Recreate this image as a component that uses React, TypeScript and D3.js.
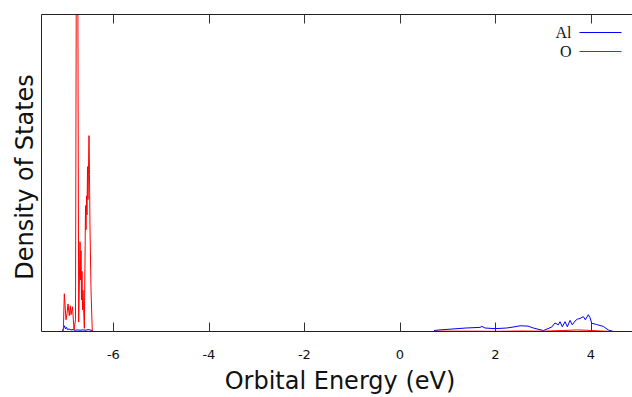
import React from "react";
import * as d3 from "d3";

// Energy (eV) and DOS (arbitrary units, 0..100 = frame height)
const alEnergy = [
  -7.07, -7.045, -7.024, -7.003, -6.982, -6.961, -6.93, -6.888, -6.846, -6.804, -6.741, -6.699,
  -6.637, -6.574, -6.532, -6.49, -6.448, -6.427,
  0.714, 0.84, 1.112, 1.385, 1.677, 1.719, 1.782, 1.992, 2.237, 2.411, 2.515, 2.683, 2.794,
  3.003, 3.179, 3.248, 3.317, 3.353, 3.401, 3.458, 3.506, 3.563, 3.61, 3.667, 3.715, 3.772,
  3.841, 3.883, 3.946, 3.981, 4.017, 4.121, 4.26, 4.364, 4.469, 4.505,
];
const alDos = [
  0, 1.0, 1.8, 0.8, 1.3, 0.6, 0.8, 0.5, 0.6, 0.4, 0.5, 0.4,
  0.5, 0.4, 0.6, 0.5, 0.3, 0,
  0.3, 0.5, 0.8, 1.1, 1.3, 1.6, 1.1, 0.9, 1.1, 1.5, 1.8, 1.7, 1.1,
  0.3, 1.4, 2.7, 2.1, 3.1, 1.5, 3.1, 1.5, 3.5, 2.1, 3.3, 3.9, 4.1,
  4.7, 3.7, 5.3, 4.4, 2.6, 2.2, 1.6, 0.5, 0, 0,
];

const oEnergy = [
  -7.049, -7.028, -6.993, -6.972, -6.951, -6.924, -6.903, -6.888, -6.857, -6.825, -6.794,
  -6.773, -6.752, -6.727, -6.699, -6.689, -6.678, -6.668, -6.658, -6.647, -6.637, -6.609,
  -6.584, -6.574, -6.563, -6.553, -6.542, -6.532, -6.522, -6.511, -6.501, -6.49, -6.469, -6.442,
  0.7, 0.75, 1.5, 2.0, 2.5, 3.0, 3.4, 3.7, 3.9, 4.0, 4.3, 4.5,
];
const oDos = [
  0.2, 11.9, 3.7, 5.6, 8.7, 5.0, 8.1, 5.3, 7.8, 0.5, 3.7,
  140, 150, 3.0, 28.3, 16.3, 25.5, 10, 19, 6.8, 13, 1.0,
  39.7, 32.1, 42.8, 36.8, 52, 41.6, 51, 61.8, 49.5, 32.7, 13, 0,
  0, 0.1, 0.1, 0.05, 0.15, 0.1, 0.3, 0.5, 0.4, 0.3, 0.1, 0,
];

const xTicks = [-6, -4, -2, 0, 2, 4];
const legendLabels = ["Al", "O"];
const seriesColors = ["#0000ff", "#ff0000"];

const W = 632;
const H = 397;
const left = 41.5;
const right = 632.5;
const top = 14.5;
const bottom = 331.5;

// split a series where there is a gap in energy (no states computed there)
function segments(es: number[], vs: number[]): [number, number][][] {
  const out: [number, number][][] = [];
  let cur: [number, number][] = [];
  es.forEach((e, i) => {
    if (i > 0 && e - es[i - 1] > 1) {
      out.push(cur);
      cur = [];
    }
    cur.push([e, vs[i]]);
  });
  out.push(cur);
  return out;
}

export default function App() {
  const x = d3.scaleLinear().domain([-7.506, 4.871]).range([left, right]);
  const y = d3.scaleLinear().domain([0, 100]).range([bottom, top]);

  const line = d3
    .line<[number, number]>()
    .x((d) => x(d[0]))
    .y((d) => y(d[1]));

  const alSegs = segments(alEnergy, alDos);
  const oSegs = segments(oEnergy, oDos);

  return (
    <div style={{ position: "absolute", left: 0, top: 0 }}>
      <svg width={W} height={H} style={{ display: "block", background: "#fff" }}>
        <defs>
          <clipPath id="plotClip">
            <rect x={left} y={top} width={right - left} height={bottom - top} />
          </clipPath>
        </defs>
        <g clipPath="url(#plotClip)">
          {alSegs.map((s, i) => (
            <path key={"a" + i} d={line(s) || ""} fill="none" stroke={seriesColors[0]} strokeWidth={1} />
          ))}
          {oSegs.map((s, i) => (
            <path key={"o" + i} d={line(s) || ""} fill="none" stroke={seriesColors[1]} strokeWidth={1} />
          ))}
        </g>
        {/* frame */}
        <line x1={left} x2={W} y1={top} y2={top} stroke="#222" strokeWidth={1} />
        <line x1={left} x2={W} y1={bottom} y2={bottom} stroke="#222" strokeWidth={1} />
        <line x1={left} x2={left} y1={top} y2={bottom} stroke="#222" strokeWidth={1} />
        {xTicks.map((t) => (
          <g key={t}>
            <line x1={Math.round(x(t)) + 0.5} x2={Math.round(x(t)) + 0.5} y1={bottom} y2={bottom - 9} stroke="#333" strokeWidth={1} />
            <line x1={Math.round(x(t)) + 0.5} x2={Math.round(x(t)) + 0.5} y1={top} y2={top + 9} stroke="#333" strokeWidth={1} />
            <text
              x={x(t)}
              y={359}
              textAnchor="middle"
              fontFamily="DejaVu Sans"
              fontSize={13}
              fill="#111"
            >
              {t}
            </text>
          </g>
        ))}
        <text x={340} y={389} textAnchor="middle" fontFamily="DejaVu Sans" fontSize={24} fill="#111">
          Orbital Energy (eV)
        </text>
        <text
          transform={`translate(33,177) rotate(-90)`}
          textAnchor="middle"
          fontFamily="DejaVu Sans"
          fontSize={24}
          fill="#111"
        >
          Density of States
        </text>
        {legendLabels.map((lab, i) => (
          <g key={lab}>
            <text
              x={571.5}
              y={38 + i * 19}
              textAnchor="end"
              fontFamily="Liberation Serif"
              fontSize={16}
              fill="#111"
            >
              {lab}
            </text>
            <line x1={579.5} x2={621.5} y1={32.5 + i * 19} y2={32.5 + i * 19} stroke={seriesColors[i]} strokeWidth={1} />
          </g>
        ))}
      </svg>
    </div>
  );
}
